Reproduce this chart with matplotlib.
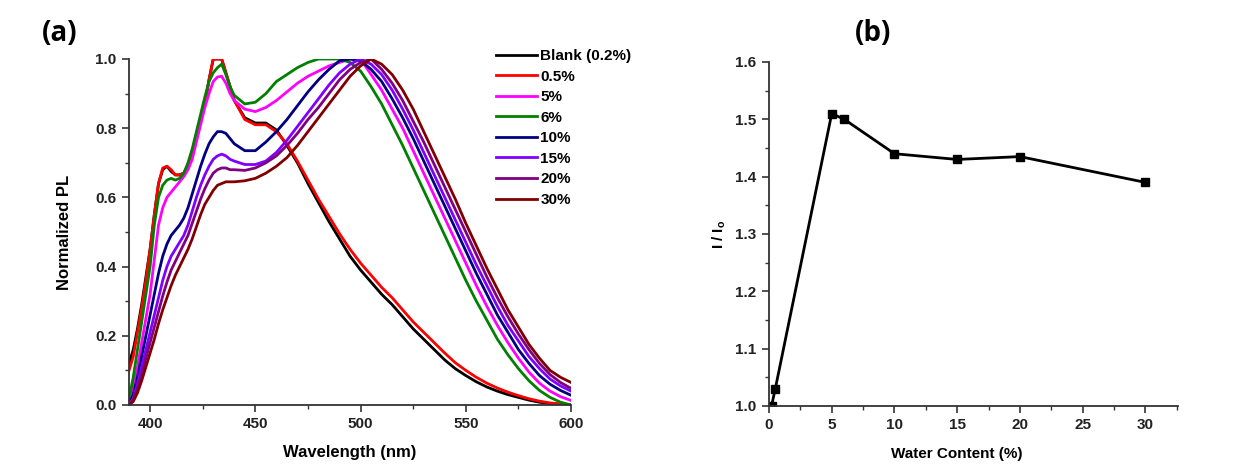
import matplotlib
matplotlib.use('Agg')
import matplotlib.pyplot as plt
from matplotlib.ticker import MultipleLocator

plt.rcParams['font.family'] = ['Liberation Sans', 'DejaVu Sans']
plt.rcParams['font.weight'] = 'bold'
plt.rcParams['mathtext.fontset'] = 'custom'
plt.rcParams['mathtext.rm'] = 'Liberation Sans:bold'
plt.rcParams['mathtext.it'] = 'Liberation Sans:bold'
plt.rcParams['mathtext.bf'] = 'Liberation Sans:bold'

# %% data, panel (a): normalized PL spectra

wavelength = ([390 + 2 * i for i in range(26)] +      # 390 ... 440
              [445 + 5 * i for i in range(32)])       # 445 ... 600

pl_blank = [0.12, 0.16, 0.22, 0.29, 0.37, 0.45, 0.55, 0.64, 0.68, 0.69,
            0.675, 0.665, 0.665, 0.67, 0.69, 0.72, 0.77, 0.82, 0.87, 0.94,
            1.0, 1.0, 1.0, 0.96, 0.92, 0.88,
            0.83, 0.815, 0.815, 0.795, 0.75, 0.70, 0.64, 0.585, 0.53, 0.48,
            0.43, 0.39, 0.355, 0.32, 0.29, 0.255, 0.22, 0.19, 0.16, 0.13,
            0.105, 0.085, 0.067, 0.052, 0.04, 0.03, 0.022, 0.014, 0.008,
            0.004, 0.002, 0.0]
pl_05 = [0.10, 0.14, 0.21, 0.28, 0.36, 0.45, 0.55, 0.64, 0.685, 0.69,
         0.68, 0.665, 0.665, 0.67, 0.69, 0.72, 0.77, 0.82, 0.87, 0.94,
         1.0, 1.0, 1.0, 0.96, 0.92, 0.88,
         0.825, 0.81, 0.81, 0.79, 0.755, 0.705, 0.65, 0.595, 0.545, 0.495,
         0.45, 0.41, 0.375, 0.34, 0.31, 0.275, 0.24, 0.21, 0.18, 0.15,
         0.122, 0.10, 0.08, 0.063, 0.049, 0.037, 0.027, 0.018, 0.011,
         0.006, 0.003, 0.0]
pl_5 = [0.01, 0.05, 0.11, 0.18, 0.25, 0.32, 0.42, 0.52, 0.57, 0.60,
        0.615, 0.63, 0.645, 0.66, 0.68, 0.71, 0.76, 0.81, 0.86, 0.90,
        0.935, 0.948, 0.95, 0.93, 0.90, 0.88,
        0.855, 0.848, 0.86, 0.88, 0.905, 0.93, 0.95, 0.965, 0.98, 0.99,
        1.0, 1.0, 0.955, 0.91, 0.855, 0.80, 0.735, 0.67, 0.605, 0.54,
        0.475, 0.41, 0.345, 0.285, 0.23, 0.18, 0.135, 0.095, 0.063,
        0.04, 0.024, 0.013]
pl_6 = [0.02, 0.08, 0.16, 0.24, 0.32, 0.40, 0.52, 0.60, 0.635, 0.65,
        0.655, 0.65, 0.655, 0.67, 0.70, 0.74, 0.79, 0.84, 0.89, 0.935,
        0.96, 0.975, 0.985, 0.955, 0.92, 0.895,
        0.87, 0.875, 0.90, 0.935, 0.955, 0.975, 0.99, 1.0, 1.0, 1.0,
        0.99, 0.965, 0.92, 0.87, 0.81, 0.75, 0.685, 0.62, 0.555, 0.49,
        0.425, 0.36, 0.30, 0.245, 0.19, 0.145, 0.105, 0.07, 0.042,
        0.022, 0.008, 0.0]
pl_10 = [0.0, 0.03, 0.08, 0.14, 0.20, 0.26, 0.32, 0.38, 0.43, 0.465,
         0.49, 0.505, 0.52, 0.54, 0.57, 0.61, 0.65, 0.69, 0.725, 0.755,
         0.775, 0.79, 0.79, 0.785, 0.77, 0.755,
         0.735, 0.735, 0.76, 0.79, 0.825, 0.865, 0.905, 0.94, 0.97, 0.995,
         1.0, 0.995, 0.97, 0.935, 0.885, 0.83, 0.77, 0.705, 0.64, 0.575,
         0.51, 0.445, 0.38, 0.32, 0.26, 0.21, 0.16, 0.12, 0.085,
         0.06, 0.042, 0.028]
pl_15 = [0.0, 0.02, 0.06, 0.11, 0.16, 0.21, 0.26, 0.31, 0.36, 0.40,
         0.43, 0.45, 0.47, 0.49, 0.52, 0.56, 0.60, 0.635, 0.665, 0.69,
         0.71, 0.72, 0.725, 0.72, 0.71, 0.705,
         0.695, 0.695, 0.705, 0.73, 0.765, 0.805, 0.845, 0.885, 0.925, 0.96,
         0.985, 1.0, 0.985, 0.955, 0.91, 0.855, 0.795, 0.73, 0.665, 0.60,
         0.535, 0.47, 0.405, 0.345, 0.285, 0.23, 0.185, 0.14, 0.105,
         0.075, 0.055, 0.04]
pl_20 = [0.0, 0.015, 0.05, 0.09, 0.135, 0.18, 0.225, 0.27, 0.315, 0.355,
         0.39, 0.415, 0.44, 0.465, 0.49, 0.525, 0.56, 0.595, 0.625, 0.65,
         0.67, 0.68, 0.685, 0.685, 0.68, 0.68,
         0.678, 0.685, 0.70, 0.72, 0.75, 0.785, 0.825, 0.86, 0.90, 0.94,
         0.97, 0.99, 1.0, 0.97, 0.93, 0.88, 0.82, 0.76, 0.695, 0.63,
         0.565, 0.50, 0.435, 0.37, 0.31, 0.255, 0.205, 0.16, 0.12,
         0.088, 0.065, 0.048]
pl_30 = [0.0, 0.01, 0.035, 0.07, 0.11, 0.15, 0.19, 0.235, 0.275, 0.31,
         0.345, 0.375, 0.40, 0.425, 0.45, 0.48, 0.515, 0.55, 0.58, 0.60,
         0.62, 0.635, 0.64, 0.645, 0.645, 0.645,
         0.648, 0.655, 0.67, 0.69, 0.715, 0.75, 0.79, 0.83, 0.87, 0.91,
         0.95, 0.98, 1.0, 0.985, 0.955, 0.91, 0.855, 0.79, 0.725, 0.66,
         0.595, 0.525, 0.46, 0.395, 0.335, 0.275, 0.225, 0.175, 0.135,
         0.10, 0.08, 0.065]

spectra = [pl_blank, pl_05, pl_5, pl_6, pl_10, pl_15, pl_20, pl_30]
labels = ['Blank (0.2%)', '0.5%', '5%', '6%', '10%', '15%', '20%', '30%']
colors = ['#000000', '#ff0000', '#ff00ff', '#008000',
          '#000080', '#8000ff', '#800080', '#800000']

# %% data, panel (b): intensity ratio vs water content

water = [0.2, 0.5, 5, 6, 10, 15, 20, 30]
ratio = [1.0, 1.03, 1.51, 1.50, 1.44, 1.43, 1.435, 1.39]

# %% plotting

fig = plt.figure(figsize=(12.48, 4.75), dpi=100)
ax1 = fig.add_axes([0.1034, 0.1474, 0.3542, 0.7284])
ax2 = fig.add_axes([0.6162, 0.1453, 0.3277, 0.7242])

for pl, lab, col in zip(spectra, labels, colors):
    ax1.plot(wavelength, pl, color=col, lw=2, label=lab)

ax1.set_xlim(390, 600)
ax1.set_ylim(0, 1.0)
ax1.xaxis.set_major_locator(MultipleLocator(50))
ax1.xaxis.set_minor_locator(MultipleLocator(25))
ax1.yaxis.set_major_locator(MultipleLocator(0.2))
ax1.yaxis.set_minor_locator(MultipleLocator(0.1))
ax1.yaxis.set_major_formatter(lambda v, p: '%.1f' % v)
ax1.set_xlabel('Wavelength (nm)', fontsize=12, fontweight='bold', labelpad=10)
ax1.set_ylabel('Normalized PL', fontsize=12, fontweight='bold', labelpad=17)
ax1.legend(loc='upper left', bbox_to_anchor=(0.83, 1.029), frameon=False,
           borderpad=0, borderaxespad=0, handlelength=2.7, handletextpad=0.2,
           labelspacing=0.43, prop={'size': 11, 'weight': 'bold'})

ax2.plot(water, ratio, color='black', lw=2, marker='s', markersize=6)
ax2.set_xlim(0, 32.6)
ax2.set_ylim(1.0, 1.6)
ax2.xaxis.set_major_locator(MultipleLocator(5))
ax2.xaxis.set_minor_locator(MultipleLocator(2.5))
ax2.yaxis.set_major_locator(MultipleLocator(0.1))
ax2.yaxis.set_minor_locator(MultipleLocator(0.05))
ax2.yaxis.set_major_formatter(lambda v, p: '%.1f' % v)
ax2.set_xlabel('Water Content (%)', fontsize=11, fontweight='bold')
ax2.xaxis.set_label_coords(0.46, -0.118)
ax2.set_ylabel(r'I / I$_\mathrm{o}$', fontsize=11, fontweight='bold', labelpad=5)

for ax in (ax1, ax2):
    ax.spines['top'].set_visible(False)
    ax.spines['right'].set_visible(False)
    for s in ('left', 'bottom'):
        ax.spines[s].set_linewidth(1.3)
        ax.spines[s].set_color('#333333')
    ax.tick_params(which='major', direction='out', length=5, width=1.2,
                   labelsize=11, pad=4, colors='#333333', labelcolor='#222222')
    ax.tick_params(which='minor', direction='out', length=3, width=1.0,
                   colors='#333333')
    for t in ax.get_xticklabels() + ax.get_yticklabels():
        t.set_fontweight('bold')

fig.text(0.048, 0.93, '(a)', fontsize=20, fontweight='bold',
         family=['Open Sans', 'DejaVu Sans'], ha='center', va='center')
fig.text(0.6995, 0.93, '(b)', fontsize=20, fontweight='bold',
         family=['Open Sans', 'DejaVu Sans'], ha='center', va='center')

fig.savefig('out.png', dpi=100)
